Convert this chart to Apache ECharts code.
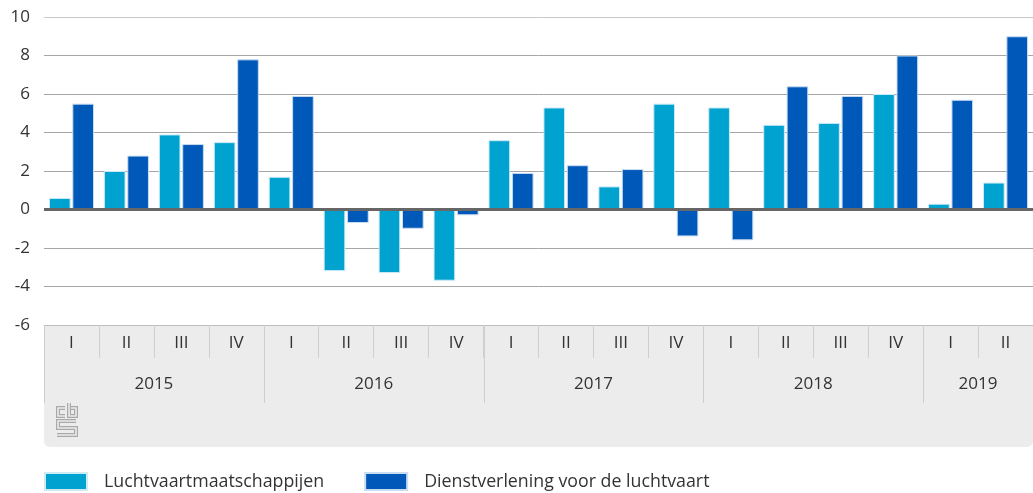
<!DOCTYPE html>
<html>
<head>
<meta charset="utf-8">
<script src="https://cdn.jsdelivr.net/npm/echarts@6/dist/echarts.min.js"></script>
<style>
  html, body { margin: 0; padding: 0; background: #fff; }
  #chart { width: 1033px; height: 493px; }
</style>
</head>
<body>
<div id="chart"></div>
<script>
// kwartalen en jaren
const quarters = ["I", "II", "III", "IV", "I", "II", "III", "IV", "I", "II", "III", "IV", "I", "II", "III", "IV", "I", "II"];
const years = ["2015", "2016", "2017", "2018", "2019"];
const quartersPerYear = [4, 4, 4, 4, 2];

// reeksen
const luchtvaart = [0.6, 2.0, 3.9, 3.5, 1.7, -3.2, -3.3, -3.7, 3.6, 5.3, 1.2, 5.5, 5.3, 4.4, 4.5, 6.0, 0.3, 1.4];
const dienstverlening = [5.5, 2.8, 3.4, 7.8, 5.9, -0.7, -1.0, -0.3, 1.9, 2.3, 2.1, -1.4, -1.6, 6.4, 5.9, 8.0, 5.7, 9.0];

const font = "'Open Sans', 'Noto Sans', sans-serif";
const textColor = "#333";

const chart = echarts.init(document.getElementById("chart"));

const option = {
  animation: false,
  grid: { left: 44, right: 0, top: 17, bottom: 168, containLabel: false },
  legend: {
    left: 44,
    top: 472,
    padding: 0,
    itemWidth: 42,
    itemHeight: 17,
    itemGap: 40,
    icon: "rect",
    textStyle: { fontSize: 17.8, color: textColor, fontFamily: font, padding: [0, 0, 0, 12] },
    data: ["Luchtvaartmaatschappijen", "Dienstverlening voor de luchtvaart"],
  },
  xAxis: {
    type: "category",
    data: quarters,
    axisLine: { show: true, onZero: false, lineStyle: { color: "#bdbdbd", width: 1 } },
    axisTick: { show: true, length: 33, interval: 0, lineStyle: { color: "#cfcfcf", width: 1 } },
    axisLabel: { interval: 0, margin: 10, fontSize: 17, color: textColor, fontFamily: font },
  },
  yAxis: {
    type: "value",
    min: -6,
    max: 10,
    interval: 2,
    axisLine: { show: false },
    axisTick: { show: false },
    axisLabel: { fontSize: 17, color: textColor, fontFamily: font, margin: 14 },
    splitLine: {
      lineStyle: {
        color: ["#c8c8c8", "#a6a6a6", "#a6a6a6", "#a6a6a6", "#a6a6a6", "#a6a6a6", "#a6a6a6", "#a6a6a6", "#c8c8c8"],
        width: 1,
      },
    },
  },
  series: [
    {
      name: "Luchtvaartmaatschappijen",
      type: "bar",
      data: luchtvaart,
      barGap: "8%",
      barCategoryGap: "18%",
      itemStyle: { color: "#00a2cf", borderColor: "#cdeaf5", borderWidth: 1 },
      markLine: {
        silent: true,
        symbol: "none",
        label: { show: false },
        lineStyle: { color: "#666", width: 3, type: "solid" },
        data: [{ yAxis: 0 }],
      },
    },
    {
      name: "Dienstverlening voor de luchtvaart",
      type: "bar",
      data: dienstverlening,
      itemStyle: { color: "#0058b8", borderColor: "#c9dcf2", borderWidth: 1 },
    },
  ],
};
chart.setOption(option);

// grijze kader met jaartallen onder de as
const boxTop = 325;
const x0 = chart.convertToPixel({ xAxisIndex: 0 }, 0);
const band = chart.convertToPixel({ xAxisIndex: 0 }, 1) - x0;
const boxLeft = x0 - band / 2;
const graphics = [
  {
    type: "rect",
    z: -10,
    shape: { x: boxLeft, y: boxTop, width: 1033 - boxLeft, height: 122, r: [0, 0, 6, 6] },
    style: { fill: "#ececec" },
  },
];
let idx = 0;
years.forEach((y, k) => {
  const n = quartersPerYear[k];
  const start = boxLeft + idx * band;
  graphics.push({
    type: "line",
    z: 5,
    shape: { x1: Math.round(start) + 0.5, y1: boxTop, x2: Math.round(start) + 0.5, y2: 403 },
    style: { stroke: "#cfcfcf", lineWidth: 1 },
  });
  graphics.push({
    type: "text",
    z: 5,
    style: {
      text: y,
      x: start + (n * band) / 2,
      y: 384,
      align: "center",
      verticalAlign: "middle",
      fontSize: 17,
      fill: textColor,
      fontFamily: font,
    },
  });
  idx += n;
});

// cbs-logo (dubbele lijn)
const logoPaths = [
  [[9, 5], [2, 5], [2, 13], [9, 13]],
  [[13, 0], [13, 13], [20, 13], [20, 5], [15, 5]],
  [[20, 18], [2, 18], [2, 25], [20, 25], [20, 32], [1, 32]],
];
const logoChildren = [];
logoPaths.forEach((p) => {
  logoChildren.push({ type: "polyline", shape: { points: p }, style: { stroke: "#a9a9a9", lineWidth: 4, fill: null } });
});
logoPaths.forEach((p) => {
  logoChildren.push({ type: "polyline", z2: 2, shape: { points: p }, style: { stroke: "#ececec", lineWidth: 1.6, fill: null } });
});
graphics.push({ type: "group", x: 56, y: 403, z: 5, children: logoChildren });

chart.setOption({ graphic: graphics });
</script>
</body>
</html>
